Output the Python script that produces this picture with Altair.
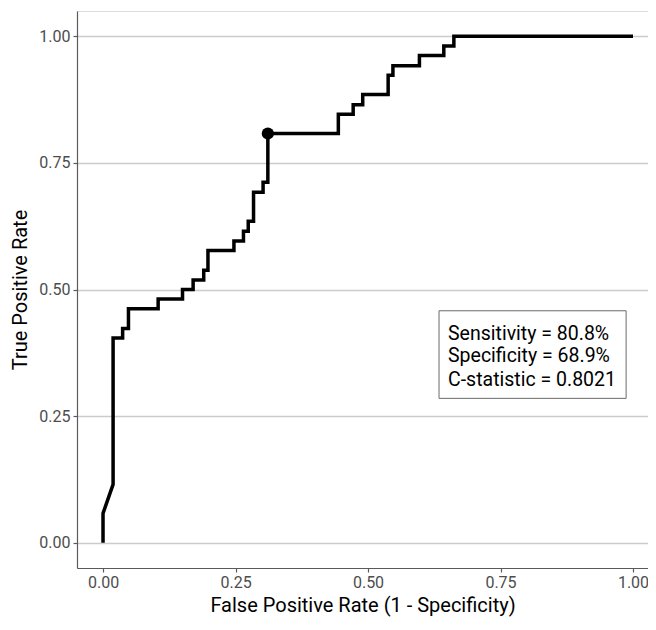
import altair as alt
import pandas as pd

# ROC curve path (false positive rate, true positive rate), in drawing order
fpr = [0.000, 0.000, 0.019, 0.019, 0.037, 0.037, 0.048, 0.048, 0.104, 0.104,
       0.150, 0.150, 0.170, 0.170, 0.190, 0.190, 0.198, 0.198, 0.247, 0.247,
       0.265, 0.265, 0.274, 0.274, 0.284, 0.284, 0.302, 0.302, 0.311, 0.311,
       0.444, 0.444, 0.472, 0.472, 0.490, 0.490, 0.538, 0.538, 0.547, 0.547,
       0.597, 0.597, 0.643, 0.643, 0.662, 0.662, 1.000]
tpr = [0.000, 0.058, 0.115, 0.404, 0.404, 0.423, 0.423, 0.462, 0.462, 0.481,
       0.481, 0.500, 0.500, 0.519, 0.519, 0.538, 0.538, 0.577, 0.577, 0.596,
       0.596, 0.615, 0.615, 0.635, 0.635, 0.692, 0.692, 0.712, 0.712, 0.808,
       0.808, 0.846, 0.846, 0.865, 0.865, 0.885, 0.885, 0.923, 0.923, 0.942,
       0.942, 0.962, 0.962, 0.981, 0.981, 1.000, 1.000]

# optimal cut-off point
opt_fpr = [0.311]
opt_tpr = [0.808]

# annotation
ann_lines = ["Sensitivity = 80.8%", "Specificity = 68.9%", "C-statistic = 0.8021"]
ann_x = 0.651
ann_y = [0.413, 0.368, 0.322]
box = dict(x=0.634, x2=0.987, y=0.285, y2=0.458)

ticks = [0, 0.25, 0.5, 0.75, 1.0]

FONT = "Roboto"

roc = pd.DataFrame({"fpr": fpr, "tpr": tpr, "i": list(range(len(fpr)))})
pt = pd.DataFrame({"fpr": opt_fpr, "tpr": opt_tpr})
ann = pd.DataFrame({"label": ann_lines, "x": [ann_x] * 3, "y": ann_y})
boxdf = pd.DataFrame([box])

xscale = alt.Scale(domain=[-0.0491, 1.0283], nice=False, zero=False)
yscale = alt.Scale(domain=[-0.05, 1.05], nice=False, zero=False)

xaxis = alt.Axis(values=ticks, format=".2f", grid=False, domainColor="#5a5a5a",
                 domainWidth=1.2, tickColor="#5a5a5a", tickSize=4, tickWidth=1.2,
                 labelColor="#4d4d4d", labelFontSize=16, labelFont=FONT,
                 labelPadding=2, title="False Positive Rate (1 - Specificity)",
                 titleFont=FONT, titleFontSize=20, titleFontWeight="normal",
                 titleColor="black", titlePadding=5)
yaxis = alt.Axis(values=ticks, format=".2f", grid=True, gridColor="#cccccc",
                 gridWidth=1.5, domainColor="#5a5a5a", domainWidth=1.2,
                 tickColor="#5a5a5a", tickSize=4, tickWidth=1.2,
                 labelColor="#4d4d4d", labelFontSize=16, labelFont=FONT,
                 labelPadding=3, title="True Positive Rate", titleFont=FONT,
                 titleFontSize=20, titleFontWeight="normal", titleColor="black",
                 titlePadding=8)

line = alt.Chart(roc).mark_line(color="black", strokeWidth=3.5,
                                strokeJoin="miter", strokeCap="butt").encode(
    x=alt.X("fpr:Q", scale=xscale, axis=xaxis),
    y=alt.Y("tpr:Q", scale=yscale, axis=yaxis),
    order="i:Q",
)

point = alt.Chart(pt).mark_circle(color="black", opacity=1, size=150).encode(
    x=alt.X("fpr:Q", scale=xscale),
    y=alt.Y("tpr:Q", scale=yscale),
)

rect = alt.Chart(boxdf).mark_rect(fill="white", stroke="#6a6a6a",
                                  strokeWidth=1).encode(
    x=alt.X("x:Q", scale=xscale),
    x2="x2:Q",
    y=alt.Y("y:Q", scale=yscale),
    y2="y2:Q",
)

text = alt.Chart(ann).mark_text(align="left", baseline="middle", fontSize=19.5,
                                font=FONT, color="black").encode(
    x=alt.X("x:Q", scale=xscale),
    y=alt.Y("y:Q", scale=yscale),
    text="label:N",
)

chart = (line + point + rect + text).properties(
    width=571, height=557,
    autosize=alt.AutoSizeParams(type="none"),
    padding={"left": 69, "top": 3, "right": 0, "bottom": 50},
).configure_view(stroke=None).configure(background="white")

chart.save("out.html", embed_options={"renderer": "svg", "actions": False})
